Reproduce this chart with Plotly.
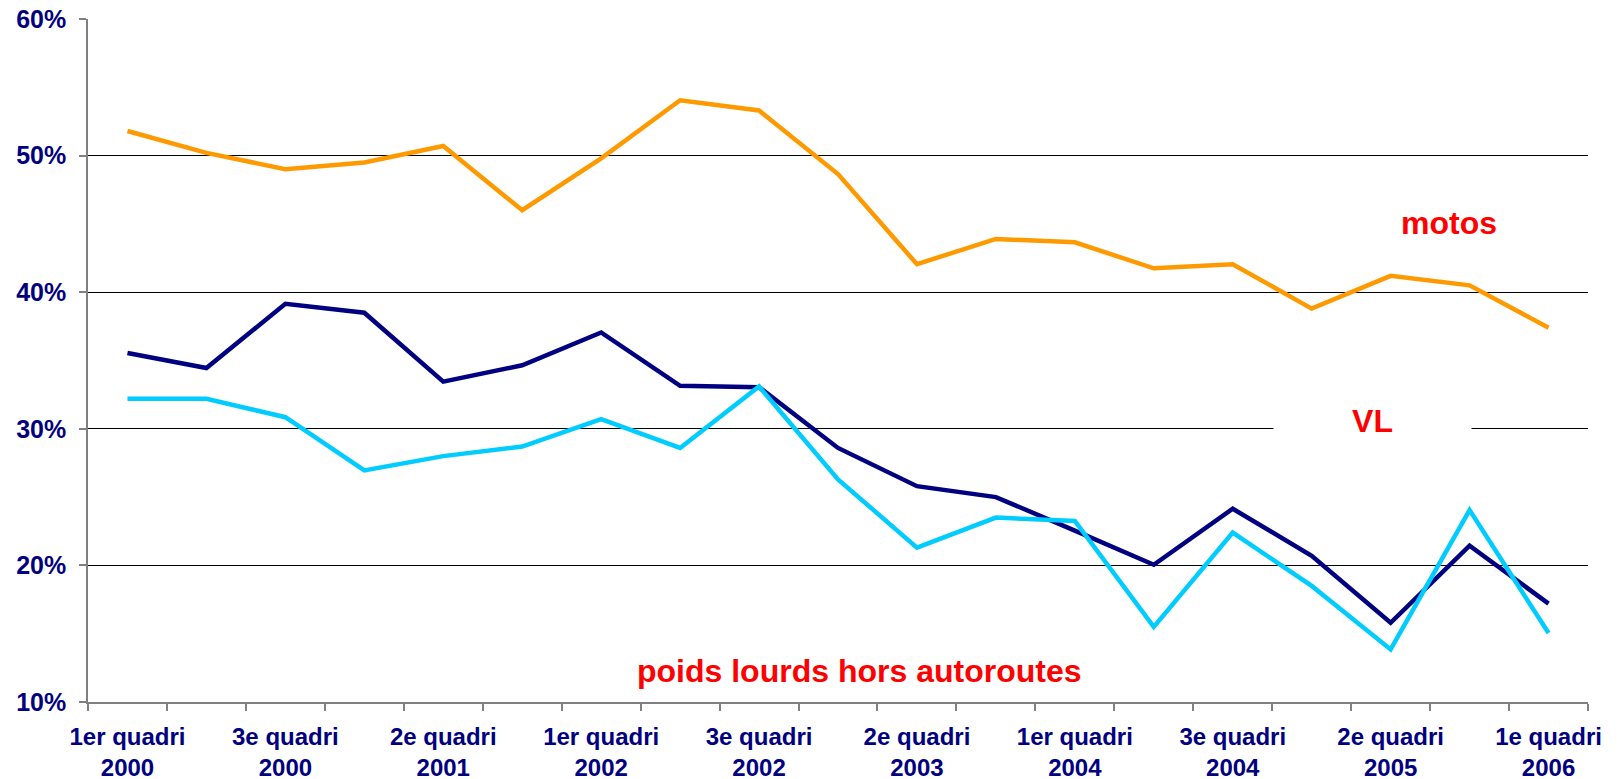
import plotly.graph_objects as go

categories = [
    "1er quadri 2000", "2e quadri 2000", "3e quadri 2000",
    "1er quadri 2001", "2e quadri 2001", "3e quadri 2001",
    "1er quadri 2002", "2e quadri 2002", "3e quadri 2002",
    "1er quadri 2003", "2e quadri 2003", "3e quadri 2003",
    "1er quadri 2004", "2e quadri 2004", "3e quadri 2004",
    "1er quadri 2005", "2e quadri 2005", "3e quadri 2005",
    "1e quadri 2006",
]
motos = [51.8, 50.2, 49.0, 49.5, 50.7, 46.0, 49.8, 54.05, 53.3, 48.65,
         42.05, 43.9, 43.65, 41.75, 42.05, 38.8, 41.2, 40.5, 37.4]
vl = [35.55, 34.45, 39.15, 38.5, 33.45, 34.65, 37.05, 33.15, 33.05, 28.6,
      25.8, 25.0, 22.55, 20.05, 24.15, 20.7, 15.8, 21.45, 17.2]
poids_lourds = [32.2, 32.2, 30.85, 26.95, 28.0, 28.7, 30.7, 28.6, 33.1, 26.3,
                21.3, 23.5, 23.25, 15.5, 22.4, 18.5, 13.85, 24.05, 15.05]
y_ticks = [10, 20, 30, 40, 50, 60]
y_tick_text = ["10%", "20%", "30%", "40%", "50%", "60%"]

x = list(range(len(categories)))
shown = x[::2]
shown_text = [categories[i].replace(" 20", "<br>20") for i in shown]

FONT = "Liberation Sans, Arial, sans-serif"

fig = go.Figure()
fig.add_trace(go.Scatter(x=x, y=motos, mode="lines", name="motos",
                         line=dict(color="#FF9900", width=4.5)))
fig.add_trace(go.Scatter(x=x, y=vl, mode="lines", name="VL",
                         line=dict(color="#000080", width=4.5)))
fig.add_trace(go.Scatter(x=x, y=poids_lourds, mode="lines", name="poids lourds hors autoroutes",
                         line=dict(color="#00CCFF", width=4.5)))

lab = dict(family=FONT, size=32, color="#FF0000", weight="bold")
fig.add_annotation(x=16.74, y=45.1, text="motos", showarrow=False, font=lab,
                   xref="x", yref="y")
fig.add_annotation(x=15.77, y=30.6, text="VL", showarrow=False, font=lab,
                   xref="x", yref="y", bgcolor="#FFFFFF", width=195, height=36)
fig.add_annotation(x=9.26, y=12.3, text="poids lourds hors autoroutes", showarrow=False,
                   font=lab, xref="x", yref="y")

fig.update_layout(
    width=1624, height=779,
    margin=dict(l=88, r=36, t=19, b=77),
    paper_bgcolor="#FFFFFF", plot_bgcolor="#FFFFFF",
    showlegend=False,
    xaxis=dict(
        range=[-0.5, len(categories) - 0.5], automargin=False,
        tickmode="array", tickvals=shown, ticktext=shown_text,
        ticks="", showgrid=False, zeroline=False,
        showline=True, linecolor="#808080", linewidth=1.5,
        tickfont=dict(family=FONT, size=24, color="#000080", weight="bold"),
        ticklabelstandoff=12,
        minor=dict(tick0=-0.5, dtick=1, ticks="outside", ticklen=7,
                   tickcolor="#808080", tickwidth=1.5, showgrid=False),
    ),
    yaxis=dict(
        range=[10, 60], automargin=False,
        tickmode="array", tickvals=y_ticks, ticktext=y_tick_text,
        ticks="outside", ticklen=7, tickcolor="#808080", tickwidth=1.5,
        showgrid=True, gridcolor="#000000", gridwidth=1, zeroline=False,
        showline=True, linecolor="#808080", linewidth=1.5,
        tickfont=dict(family=FONT, size=25, color="#000080", weight="bold"),
        ticklabelstandoff=8,
    ),
)

fig.write_html(
    "out.html",
    config={"displayModeBar": False},
    post_script="document.body.style.margin='0';document.body.style.overflow='hidden';",
)
